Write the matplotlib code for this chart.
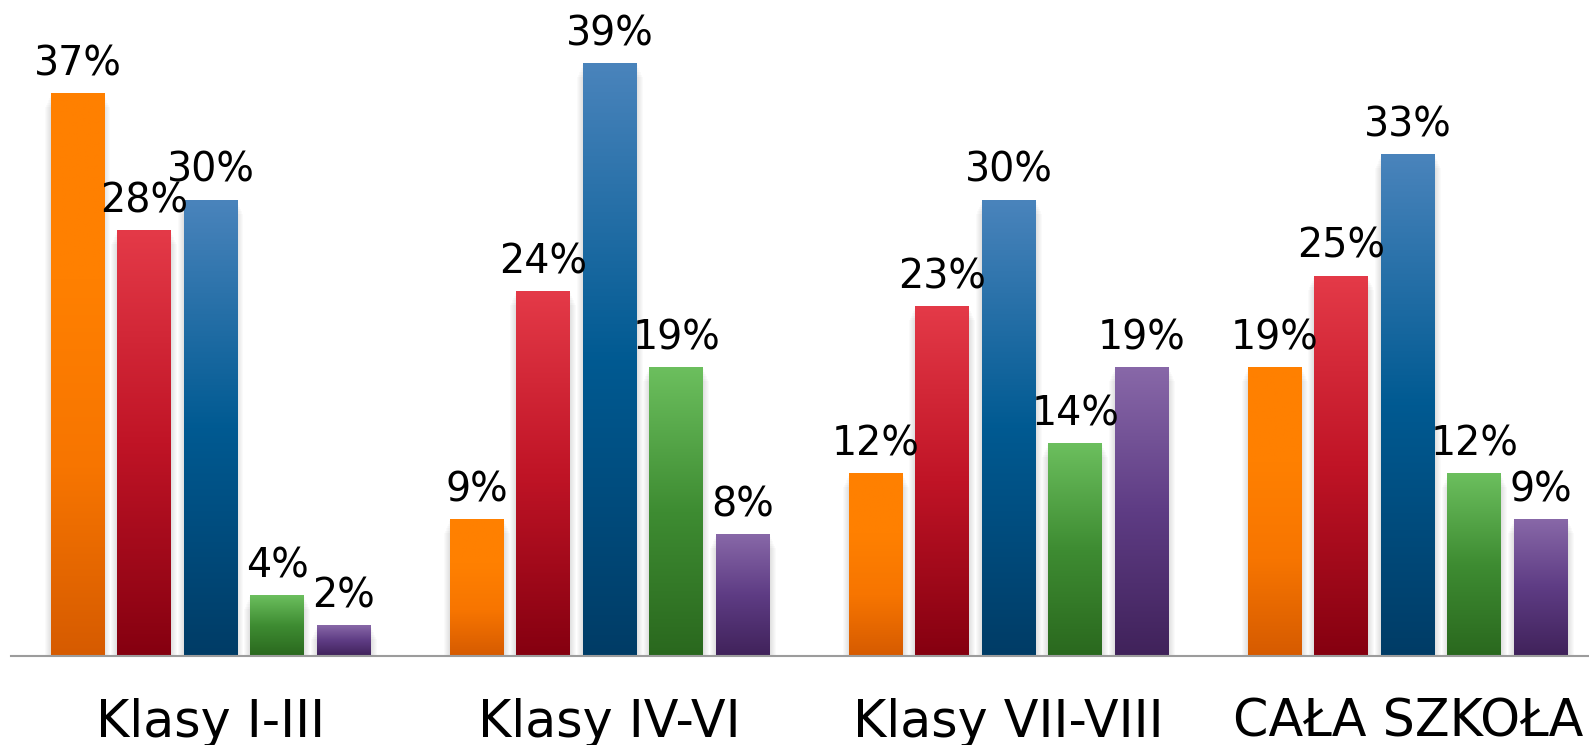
#!/usr/bin/env python3
"""
Grouped bar chart with gradient bars (Klasy I-III ... CAŁA SZKOŁA)
"""
import matplotlib
matplotlib.use('Agg')
import matplotlib.pyplot as plt
import numpy as np
from matplotlib.colors import LinearSegmentedColormap

# Data (percent)
categories = ['Klasy I-III', 'Klasy IV-VI', 'Klasy VII-VIII', 'CAŁA SZKOŁA']
series_orange = [37, 9, 12, 19]
series_red = [28, 24, 23, 25]
series_blue = [30, 39, 30, 33]
series_green = [4, 19, 14, 12]
series_purple = [2, 8, 19, 9]

# bottom -> middle -> top colours of each series gradient
gradients = [
    ['#d65b00', '#f77500', '#ff8000', '#ff8000'],
    ['#850010', '#c01426', '#e43a48'],
    ['#003c66', '#005a92', '#4a84bc'],
    ['#2a681e', '#3e8c32', '#6cbf5e'],
    ['#40225a', '#5e3c84', '#8868a8'],
]


def main():
    series = [series_orange, series_red, series_blue, series_green,
              series_purple]
    n_series = len(series)
    group_step = n_series + 1
    bar_width = 0.81

    fig = plt.figure(figsize=(15.89, 7.45), dpi=100)
    ax = fig.add_axes([11 / 1589, 89 / 745, 1 - 11 / 1589, 608 / 745])

    grad = np.linspace(0, 1, 256).reshape(-1, 1)
    for s, values in enumerate(series):
        x = np.arange(len(categories)) * group_step + s
        cmap = LinearSegmentedColormap.from_list('g%d' % s, gradients[s])
        # soft shadow behind the bars
        for k in range(1, 7):
            ax.bar(x, np.array(values) - 0.15 * k, width=bar_width + 0.03 * k,
                   color='black', alpha=0.018, linewidth=0, zorder=1)
        bars = ax.bar(x, values, width=bar_width, color='none',
                      linewidth=0, zorder=3)
        for bar, v in zip(bars, values):
            x0 = bar.get_x()
            ax.imshow(grad, extent=[x0, x0 + bar.get_width(), 0,
                                    bar.get_height()],
                      origin='lower', aspect='auto', cmap=cmap, zorder=2,
                      interpolation='bicubic')
            ax.annotate('{}%'.format(v), xy=(bar.get_x() + bar.get_width() / 2,
                                             bar.get_height()),
                        xytext=(0, 13), textcoords='offset points',
                        ha='center', va='baseline', fontsize=28.5,
                        color='black', zorder=5)

    centers = np.arange(len(categories)) * group_step + (n_series - 1) / 2
    ax.set_xticks(centers, categories, fontsize=36.5)
    for lbl in ax.get_xticklabels():
        lbl.set_va('baseline')
    ax.tick_params(axis='x', length=0, pad=58)
    ax.set_yticks([])

    ax.set_xlim(-1, -1 + 1578 / 66.52)
    ax.set_ylim(0, 40)
    for side in ['top', 'right', 'left']:
        ax.spines[side].set_visible(False)
    ax.spines['bottom'].set_color('#9c9c9c')
    ax.spines['bottom'].set_linewidth(1.5)
    ax.spines['bottom'].set_zorder(6)
    ax.patch.set_alpha(0)

    fig.savefig('out.png', dpi=100)


if __name__ == "__main__":
    main()
